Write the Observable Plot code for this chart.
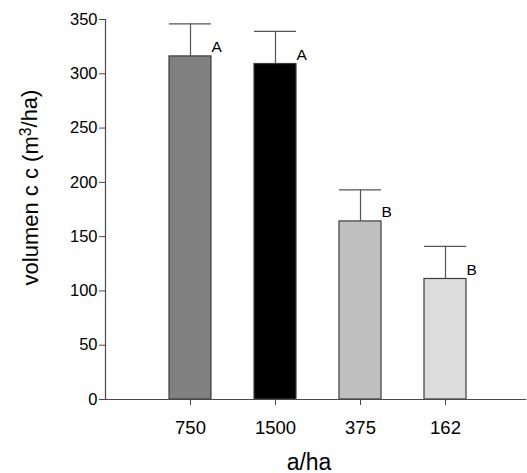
<!DOCTYPE html>
<html>
<head>
<meta charset="utf-8">
<script src="https://cdn.jsdelivr.net/npm/d3@7"></script>
<script src="https://cdn.jsdelivr.net/npm/@observablehq/plot@0.6"></script>
<style>
  html, body { margin: 0; padding: 0; background: #fff; }
  svg { display: block; }
</style>
</head>
<body>
<div id="chart"></div>
<script>
const categories = ["750", "1500", "375", "162"];
const values = [316, 309, 164, 111];
const errors = [30, 30, 29, 30];
const letters = ["A", "A", "B", "B"];
const fills = ["#808080", "#000000", "#c0c0c0", "#dcdcdc"];
const yTicks = [0, 50, 100, 150, 200, 250, 300, 350];
const xTitle = "a/ha";
const yTitleParts = ["volumen c c (m", "3", "/ha)"];
const yTitle = yTitleParts.join("");

const data = categories.map((c, i) => ({
  cat: c, value: values[i], upper: values[i] + errors[i], letter: letters[i], fill: fills[i]
}));

const font = "'Liberation Sans', Arial, sans-serif";
const axisColor = "#4a4a4a";

const chart = Plot.plot({
  width: 527,
  height: 473,
  marginTop: 19,
  marginBottom: 74,
  marginLeft: 105,
  marginRight: 2,
  style: { fontFamily: font, background: "#fff", color: "#000" },
  x: { domain: categories, paddingInner: 0.506, paddingOuter: 0.72, align: 0.52, label: null },
  y: { domain: [0, 350], label: null },
  marks: [
    Plot.barY(data, { x: "cat", y: "value", fill: "fill", stroke: "#3c3c3c", strokeWidth: 1.2 }),
    Plot.ruleX(data, { x: "cat", y1: "value", y2: "upper", stroke: "#555", strokeWidth: 1.2 }),
    Plot.tickY(data, { x: "cat", y: "upper", stroke: "#555", strokeWidth: 1.2 }),
    Plot.text(data, { x: "cat", y: "value", text: "letter", textAnchor: "start", lineAnchor: "bottom", dx: 21, dy: -4, fontSize: 15.5, fill: "#000" }),
    Plot.frame({ anchor: "left", stroke: axisColor, strokeWidth: 1.2 }),
    Plot.frame({ anchor: "bottom", stroke: axisColor, strokeWidth: 1.2 }),
    Plot.axisY({ ticks: yTicks, tickSize: 6, tickPadding: 2, fontSize: 16.5, stroke: axisColor, color: "#000", label: null }),
    Plot.axisX({ tickSize: 6, tickPadding: 15, fontSize: 18.5, stroke: axisColor, color: "#000", label: null }),
    Plot.text([xTitle], { frameAnchor: "bottom", text: d => d, textAnchor: "middle", lineAnchor: "bottom", dy: 70, dx: -6.5, fontSize: 23, fill: "#000" }),
    Plot.text([yTitle], { frameAnchor: "left", text: d => d, textAnchor: "middle", rotate: -90, lineAnchor: "bottom", dx: -68, dy: -22, fontSize: 22, fill: "#000" })
  ]
});

// render the "3" as a real superscript
d3.select(chart).selectAll("text").filter(function () { return this.textContent === yTitle; })
  .each(function () {
    const t = d3.select(this);
    t.text(null);
    t.append("tspan").text(yTitleParts[0]);
    t.append("tspan").attr("dy", "-0.42em").attr("font-size", "0.72em").text(yTitleParts[1]);
    t.append("tspan").attr("dy", "0.3em").text(yTitleParts[2]);
  });

document.getElementById("chart").appendChild(chart);
</script>
</body>
</html>
